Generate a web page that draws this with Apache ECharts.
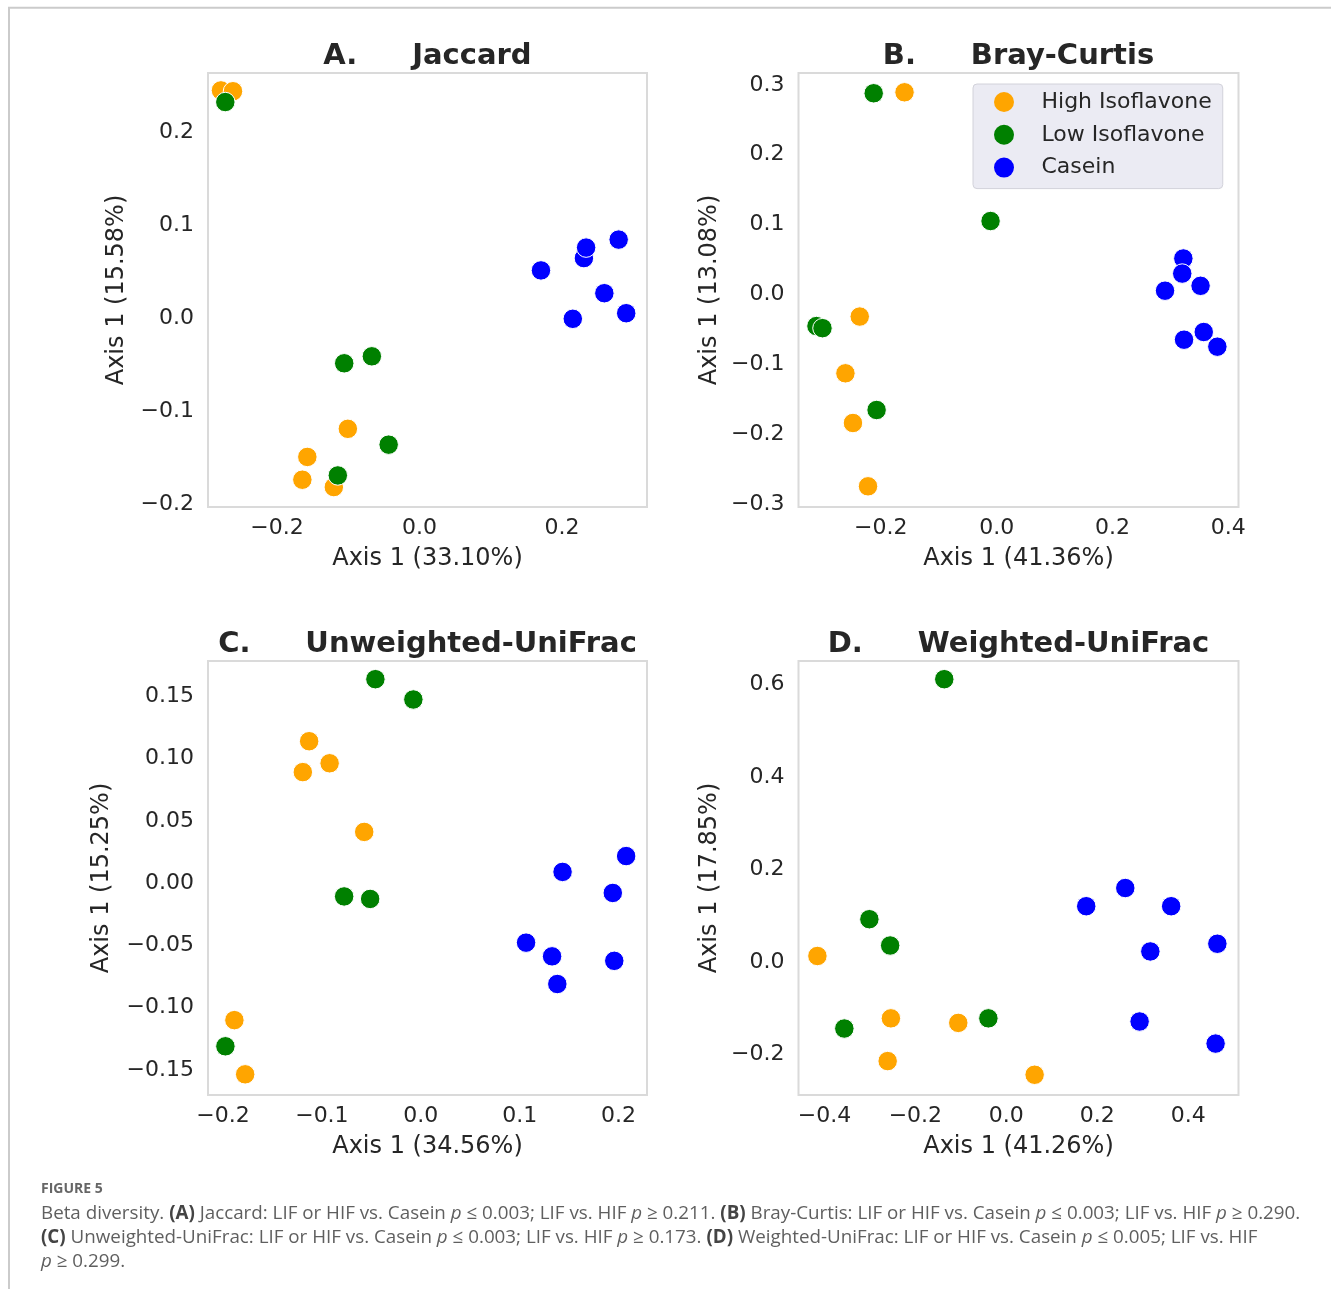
<!DOCTYPE html>
<html><head><meta charset="utf-8">
<script src="https://cdn.jsdelivr.net/npm/echarts@6/dist/echarts.min.js"></script>
<style>html,body{margin:0;padding:0;background:#fff}#c{width:1331px;height:1289px}</style>
</head><body><div id="c"></div>
<script>
// ---------- data ----------
const groups = ['High Isoflavone', 'Low Isoflavone', 'Casein'];
const groupColors = ['#FFA500', '#008000', '#0000FF'];

const panelTitles = ['A.    \u2002Jaccard', 'B.    \u2002Bray-Curtis', 'C.    \u2002Unweighted-UniFrac', 'D.    \u2002Weighted-UniFrac'];
const xNames = ['Axis 1 (33.10%)', 'Axis 1 (41.36%)', 'Axis 1 (34.56%)', 'Axis 1 (41.26%)'];
const yNames = ['Axis 1 (15.58%)', 'Axis 1 (13.08%)', 'Axis 1 (15.25%)', 'Axis 1 (17.85%)'];

// Panel A: Jaccard
const jaccardHigh = [[-0.2788,0.2450],[-0.2619,0.2441],[-0.1006,-0.1186],[-0.1575,-0.1488],[-0.1645,-0.1733],[-0.1203,-0.1812]];
const jaccardLow = [[-0.2727,0.2325],[-0.1057,-0.0482],[-0.0669,-0.0407],[-0.0433,-0.1356],[-0.1147,-0.1687]];
const jaccardCasein = [[0.1706,0.0516],[0.2309,0.0648],[0.2340,0.0761],[0.2797,0.0847],[0.2596,0.0271],[0.2153,-0.0004],[0.2903,0.0056]];

// Panel B: Bray-Curtis
const brayHigh = [[-0.159,0.2894],[-0.2363,-0.0315],[-0.261,-0.1127],[-0.248,-0.1838],[-0.222,-0.2744]];
const brayLow = [[-0.2122,0.288],[-0.0105,0.1052],[-0.311,-0.0451],[-0.3006,-0.0481],[-0.2072,-0.1652]];
const brayCasein = [[0.3223,0.0516],[0.3204,0.030],[0.352,0.0125],[0.2907,0.0055],[0.3575,-0.0536],[0.3235,-0.0646],[0.381,-0.0746]];

// Panel C: Unweighted-UniFrac
const unweightedHigh = [[-0.1129,0.1139],[-0.1193,0.0891],[-0.0922,0.0962],[-0.0572,0.0411],[-0.1885,-0.11],[-0.1776,-0.1535]];
const unweightedLow = [[-0.0459,0.1637],[-0.0075,0.1474],[-0.0775,-0.0107],[-0.0512,-0.0127],[-0.1976,-0.131]];
const unweightedCasein = [[0.1434,0.009],[0.2077,0.0217],[0.1942,-0.0079],[0.1065,-0.0478],[0.1328,-0.0588],[0.1957,-0.0624],[0.1381,-0.081]];

// Panel D: Weighted-UniFrac
const weightedHigh = [[-0.4154,0.0129],[-0.2538,-0.1221],[-0.2609,-0.2146],[-0.1056,-0.1319],[0.0623,-0.2442]];
const weightedLow = [[-0.1364,0.612],[-0.3011,0.0925],[-0.2554,0.0356],[-0.3562,-0.1441],[-0.0394,-0.1221]];
const weightedCasein = [[0.1758,0.1206],[0.2617,0.16],[0.3626,0.1206],[0.3168,0.0227],[0.4642,0.0394],[0.2932,-0.1289],[0.4603,-0.1767]];

// axis ranges and tick values
const xRanges = [[-0.297,0.3195],[-0.342,0.4175],[-0.2152,0.2288],[-0.457,0.5107]];
const yRanges = [[-0.2026,0.2637],[-0.304,0.317],[-0.1701,0.1783],[-0.288,0.6514]];
const xTicks = [[-0.2,0.0,0.2],[-0.2,0.0,0.2,0.4],[-0.2,-0.1,0.0,0.1,0.2],[-0.4,-0.2,0.0,0.2,0.4]];
const yTicks = [[-0.2,-0.1,0.0,0.1,0.2],[-0.3,-0.2,-0.1,0.0,0.1,0.2,0.3],[-0.15,-0.10,-0.05,0.00,0.05,0.10,0.15],[-0.2,0.0,0.2,0.4,0.6]];
const yDecimals = [1,1,2,1];

const captionTitle = 'FIGURE 5';
const captionLines = [
  'Beta diversity. {b|(A)} Jaccard: LIF or HIF vs. Casein {i|p} ≤ 0.003; LIF vs. HIF {i|p} ≥ 0.211. {b|(B)} Bray-Curtis: LIF or HIF vs. Casein {i|p} ≤ 0.003; LIF vs. HIF {i|p} ≥ 0.290.',
  '{b|(C)} Unweighted-UniFrac: LIF or HIF vs. Casein {i|p} ≤ 0.003; LIF vs. HIF {i|p} ≥ 0.173. {b|(D)} Weighted-UniFrac: LIF or HIF vs. Casein {i|p} ≤ 0.005; LIF vs. HIF',
  '{i|p} ≥ 0.299.'
];

const panelData = [
  [jaccardHigh, jaccardLow, jaccardCasein],
  [brayHigh, brayLow, brayCasein],
  [unweightedHigh, unweightedLow, unweightedCasein],
  [weightedHigh, weightedLow, weightedCasein]
];

// ---------- layout ----------
const gridBoxes = [
  {left:208, top:73, width:439, height:434},
  {left:798.5, top:73, width:440, height:434},
  {left:208, top:661, width:439, height:434},
  {left:798.5, top:661, width:440, height:434}
];
const yNameGaps = [79, 77, 94, 77];
const FONT = 'DejaVu Sans';
const TXT = '#262626';

const fmt = (d) => (v) => {
  const s = Math.abs(v).toFixed(d);
  return (v < -1e-9 ? '\u2212' : '') + s;
};

const option = {
  animation: false,
  backgroundColor: '#ffffff',
  title: panelTitles.map((t, i) => ({
    text: t,
    left: gridBoxes[i].left + gridBoxes[i].width / 2,
    top: gridBoxes[i].top - 31,
    textAlign: 'center',
    padding: 0,
    textStyle: {fontFamily: FONT, fontSize: 29, fontWeight: 'bold', color: TXT}
  })),
  legend: {
    data: groups,
    orient: 'vertical',
    left: 973,
    top: 84,
    padding: [7, 11, 10, 21],
    itemWidth: 65,
    itemHeight: 20,
    itemGap: 10.8,
    icon: 'circle',
    backgroundColor: 'rgba(234,234,242,0.95)',
    borderColor: '#d2d2da',
    borderWidth: 1,
    borderRadius: 4,
    itemStyle: {borderWidth: 0},
    textStyle: {fontFamily: FONT, fontSize: 22, color: TXT, lineHeight: 20}
  },
  grid: gridBoxes.map(g => ({
    left: g.left, top: g.top, width: g.width, height: g.height,
    show: true, borderColor: '#dadada', borderWidth: 2, backgroundColor: 'transparent',
    containLabel: false
  })),
  xAxis: gridBoxes.map((g, i) => ({
    gridIndex: i, type: 'value', min: xRanges[i][0], max: xRanges[i][1],
    axisLine: {show: false}, axisTick: {show: false}, splitLine: {show: false},
    axisLabel: {customValues: xTicks[i], formatter: fmt(1), fontFamily: FONT, fontSize: 22, color: TXT, margin: 10},
    name: xNames[i], nameLocation: 'middle', nameGap: 40,
    nameTextStyle: {fontFamily: FONT, fontSize: 24, color: TXT}
  })),
  yAxis: gridBoxes.map((g, i) => ({
    gridIndex: i, type: 'value', min: yRanges[i][0], max: yRanges[i][1],
    axisLine: {show: false}, axisTick: {show: false}, splitLine: {show: false},
    axisLabel: {customValues: yTicks[i], formatter: fmt(yDecimals[i]), fontFamily: FONT, fontSize: 22, color: TXT, margin: 14},
    name: yNames[i], nameLocation: 'middle', nameGap: yNameGaps[i],
    nameTextStyle: {fontFamily: FONT, fontSize: 24, color: TXT}
  })),
  series: [],
  graphic: []
};

panelData.forEach((sets, i) => {
  sets.forEach((pts, k) => {
    option.series.push({
      type: 'scatter', name: groups[k], xAxisIndex: i, yAxisIndex: i,
      data: pts, symbol: 'circle', symbolSize: 19.5,
      itemStyle: {color: groupColors[k], borderColor: '#ffffff', borderWidth: 1, opacity: 1},
      emphasis: {disabled: true}
    });
  });
});

// outer frame
option.graphic.push({
  type: 'rect', x: 9, y: 7.7, silent: true,
  shape: {x: 0, y: 0, width: 1400, height: 1400},
  style: {fill: 'none', stroke: '#cbcbcb', lineWidth: 2}
});
// caption
const CAP_FONT = '"Open Sans", "Noto Sans", sans-serif';
const CAP_SIZE = 18.8;
option.graphic.push({
  type: 'text', x: 41, y: 1189, silent: true,
  style: {text: captionTitle, fill: '#666666', fontFamily: CAP_FONT, fontSize: 14, fontWeight: 'bold', verticalAlign: 'middle', align: 'left'}
});
captionLines.forEach((line, j) => {
  option.graphic.push({
    type: 'text', x: 41, y: 1214 + 24 * j, silent: true,
    style: {
      text: line, fill: '#5f5f5f', fontFamily: CAP_FONT, fontSize: CAP_SIZE, verticalAlign: 'middle', align: 'left',
      rich: {
        b: {fontFamily: CAP_FONT, fontSize: CAP_SIZE, fontWeight: 'bold', fill: '#444444'},
        i: {fontFamily: CAP_FONT, fontSize: CAP_SIZE, fontStyle: 'italic', fill: '#5f5f5f'}
      }
    }
  });
});

const chart = echarts.init(document.getElementById('c'), null, {renderer: 'canvas', width: 1331, height: 1289});
chart.setOption(option);
</script>
</body></html>
